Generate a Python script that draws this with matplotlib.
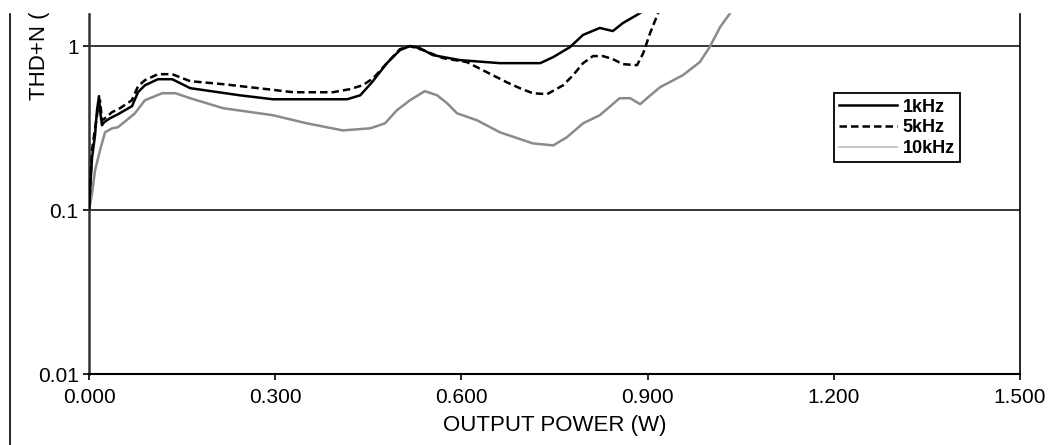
import matplotlib
matplotlib.use("Agg")
import matplotlib.pyplot as plt
from matplotlib.ticker import FixedLocator, FixedFormatter, NullLocator
from matplotlib.patches import Rectangle
from matplotlib.lines import Line2D

plt.rcParams['font.family'] = ['Liberation Sans', 'DejaVu Sans']

# THD+N (%) vs output power (W)
p_1k = [0.0, 0.0048, 0.0097, 0.0129, 0.0161, 0.0177, 0.0209, 0.0242, 0.0338, 0.0467,
        0.0693, 0.0789, 0.0902, 0.111, 0.134, 0.163, 0.243, 0.296, 0.416, 0.437,
        0.456, 0.480, 0.501, 0.517, 0.533, 0.554, 0.598, 0.662, 0.727, 0.748,
        0.775, 0.796, 0.823, 0.844, 0.860, 0.888, 0.904]
thd_1k = [0.102, 0.207, 0.286, 0.406, 0.495, 0.406, 0.329, 0.343, 0.363, 0.384,
          0.430, 0.523, 0.577, 0.628, 0.628, 0.554, 0.501, 0.474, 0.474, 0.501,
          0.602, 0.787, 0.945, 1.0, 0.972, 0.881, 0.821, 0.787, 0.787, 0.857,
          0.986, 1.17, 1.29, 1.235, 1.38, 1.59, 1.78]

p_5k = [0.0, 0.0048, 0.0097, 0.0145, 0.0177, 0.0209, 0.0258, 0.037, 0.050, 0.069,
        0.079, 0.090, 0.111, 0.134, 0.163, 0.216, 0.287, 0.329, 0.393, 0.420,
        0.441, 0.458, 0.480, 0.501, 0.517, 0.538, 0.570, 0.609, 0.641, 0.673,
        0.694, 0.715, 0.738, 0.764, 0.780, 0.796, 0.812, 0.828, 0.844, 0.860,
        0.883, 0.893, 0.904, 0.917, 0.923]
thd_5k = [0.102, 0.231, 0.315, 0.418, 0.467, 0.353, 0.363, 0.395, 0.418, 0.467,
          0.569, 0.619, 0.674, 0.674, 0.611, 0.586, 0.546, 0.523, 0.523, 0.546,
          0.577, 0.637, 0.787, 0.958, 1.0, 0.945, 0.845, 0.798, 0.693, 0.602,
          0.554, 0.516, 0.509, 0.577, 0.665, 0.787, 0.869, 0.869, 0.833, 0.776,
          0.765, 0.906, 1.20, 1.59, 1.83]

p_10k = [0.0, 0.0048, 0.0097, 0.0177, 0.0258, 0.037, 0.0467, 0.074, 0.090, 0.118,
         0.139, 0.163, 0.216, 0.296, 0.351, 0.409, 0.453, 0.477, 0.496, 0.517,
         0.541, 0.561, 0.577, 0.593, 0.625, 0.662, 0.715, 0.748, 0.770, 0.796,
         0.823, 0.855, 0.872, 0.888, 0.899, 0.920, 0.957, 0.984, 1.000, 1.017,
         1.033, 1.041]
thd_10k = [0.099, 0.126, 0.174, 0.231, 0.298, 0.315, 0.320, 0.389, 0.467, 0.516,
           0.516, 0.481, 0.418, 0.379, 0.338, 0.306, 0.315, 0.338, 0.406, 0.467,
           0.531, 0.501, 0.448, 0.389, 0.353, 0.298, 0.255, 0.248, 0.278, 0.338,
           0.379, 0.481, 0.481, 0.442, 0.481, 0.561, 0.665, 0.798, 0.986, 1.31,
           1.59, 1.78]

x_ticks = [0.0, 0.3, 0.6, 0.9, 1.2, 1.5]
x_tick_labels = ['0.000', '0.300', '0.600', '0.900', '1.200', '1.500']
y_ticks = [0.01, 0.1, 1]
y_tick_labels = ['0.01', '0.1', '1']

W, H = 1049, 445
fig = plt.figure(figsize=(W / 100, H / 100), dpi=100)
ax = fig.add_axes([89 / W, 1 - 374 / H, (1020 - 89) / W, (374 - 12) / H])

ax.plot(p_10k, thd_10k, color='#8a8a8a', lw=1.8, label='10kHz', zorder=2)
ax.plot(p_5k, thd_5k, color='black', lw=1.8, dashes=(3, 1.6), label='5kHz', zorder=3)
ax.plot(p_1k, thd_1k, color='black', lw=1.8, label='1kHz', zorder=4)

# horizontal grid at the decades
for yv in [0.1, 1]:
    ax.axhline(yv, color='black', lw=1.1, zorder=1)

ax.set_yscale('log')
ax.set_xlim(0, 1.5)
ax.set_ylim(0.01, 1.614)

ax.xaxis.set_major_locator(FixedLocator(x_ticks))
ax.xaxis.set_major_formatter(FixedFormatter(x_tick_labels))
ax.yaxis.set_major_locator(FixedLocator(y_ticks))
ax.yaxis.set_major_formatter(FixedFormatter(y_tick_labels))
ax.yaxis.set_minor_locator(NullLocator())
ax.tick_params(axis='x', direction='out', length=4, width=1.2, pad=6, labelsize=15)
ax.tick_params(axis='y', direction='out', length=4.5, width=1.2, pad=3, labelsize=15)

ax.spines['top'].set_visible(False)
ax.spines['left'].set_color('#333333')
ax.spines['left'].set_linewidth(1.8)
ax.spines['bottom'].set_linewidth(1.5)
ax.spines['right'].set_linewidth(1.2)

ax.set_xlabel('OUTPUT POWER (W)', fontsize=16, labelpad=6)
# y label sits partly above the cropped top, as in the reference
fig.text(39 / W, 1 - 100 / H, 'THD+N (%)', rotation=90, fontsize=16,
         ha='center', va='bottom')

handles = [Line2D([], [], color='black', lw=1.8),
           Line2D([], [], color='black', lw=1.8, dashes=(3, 1.6)),
           Line2D([], [], color='#bbbbbb', lw=1.2)]
leg = ax.legend(handles, ['1kHz', '5kHz', '10kHz'], loc='center',
                bbox_to_anchor=(0.868, 0.680), fancybox=False, framealpha=1,
                edgecolor='black', handlelength=3.2, handletextpad=0.3,
                labelspacing=0.2, borderpad=0.3, borderaxespad=0,
                prop={'size': 13, 'weight': 'bold'})
leg.get_frame().set_linewidth(1.3)

# outer frame line on the left and the cropped top band
fig.add_artist(Line2D([10 / W, 10 / W], [0, 1 - 12 / H], transform=fig.transFigure,
                      color='black', lw=1.2))
fig.add_artist(Rectangle((0, 1 - 12 / H), 1, 12 / H, transform=fig.transFigure,
                         color='white', zorder=10))

fig.savefig('out.png', dpi=100)
